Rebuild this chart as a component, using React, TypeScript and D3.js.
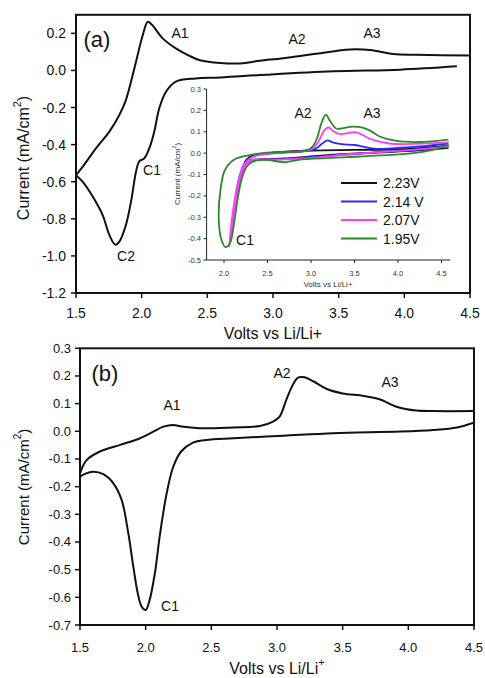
import React from 'react';
import * as d3 from 'd3';

type P = [number, number];

// Panel (a) main CV
const aAnodic: P[] = [[1.5,-0.565],[1.55,-0.52],[1.652,-0.42],[1.754,-0.33],[1.83,-0.24],[1.875,-0.17],[1.906,-0.096],[1.957,0.047],[2.008,0.19],[2.046,0.262],[2.08,0.245],[2.16,0.173],[2.26,0.119],[2.36,0.08],[2.444,0.055],[2.6,0.04],[2.75,0.038],[2.9,0.052],[3.08,0.066],[3.33,0.09],[3.586,0.113],[3.74,0.11],[3.916,0.088],[4.09,0.084],[4.5,0.081]];
const aCathodic: P[] = [[4.4,0.022],[3.967,0.004],[3.46,-0.005],[2.95,-0.023],[2.6,-0.038],[2.41,-0.043],[2.26,-0.06],[2.185,-0.115],[2.134,-0.204],[2.096,-0.33],[2.058,-0.42],[2.02,-0.474],[1.982,-0.49],[1.957,-0.546],[1.919,-0.707],[1.88,-0.833],[1.83,-0.923],[1.80,-0.94],[1.754,-0.887],[1.703,-0.78],[1.627,-0.68],[1.55,-0.6],[1.5,-0.565]];

// Inset curves (vertex potentials)
const legendLabels = ['2.23V', '2.14 V', '2.07V', '1.95V'];
const insetColors = ['#111111', '#2a2aff', '#ff3cff', '#2a8a2a'];
const insBlack: P[] = [[4.58,0.025],[4.2,0.012],[3.8,0.004],[3.4,-0.004],[3.0,-0.015],[2.7,-0.025],[2.45,-0.028],[2.3,-0.034],[2.235,-0.05],[2.26,-0.03],[2.33,-0.012],[2.6,0.004],[3.0,0.012],[3.5,0.015],[4.0,0.018],[4.3,0.025],[4.58,0.035]];
const insBlue: P[] = [[4.58,0.03],[4.3,0.018],[3.9,0.007],[3.5,-0.004],[3.0,-0.019],[2.7,-0.028],[2.45,-0.03],[2.3,-0.035],[2.25,-0.055],[2.2,-0.11],[2.15,-0.2],[2.13,-0.25],[2.16,-0.14],[2.24,-0.045],[2.33,-0.015],[2.6,0.0],[2.9,0.007],[3.05,0.02],[3.13,0.045],[3.19,0.06],[3.25,0.05],[3.35,0.042],[3.5,0.038],[3.6,0.03],[3.75,0.02],[4.0,0.025],[4.3,0.033],[4.58,0.045]];
const insMagenta: P[] = [[4.58,0.032],[4.3,0.02],[3.9,0.008],[3.5,-0.003],[2.9,-0.025],[2.6,-0.03],[2.4,-0.03],[2.3,-0.035],[2.25,-0.055],[2.2,-0.11],[2.15,-0.2],[2.11,-0.3],[2.08,-0.39],[2.06,-0.44],[2.075,-0.37],[2.1,-0.28],[2.16,-0.14],[2.24,-0.047],[2.33,-0.018],[2.5,-0.002],[2.8,0.007],[3.0,0.017],[3.08,0.05],[3.15,0.105],[3.2,0.12],[3.25,0.105],[3.32,0.09],[3.42,0.093],[3.5,0.098],[3.57,0.09],[3.65,0.072],[3.75,0.057],[3.9,0.045],[4.2,0.043],[4.58,0.05]];
const insGreen: P[] = [[4.58,0.04],[4.4,0.015],[4.17,0.0],[3.79,-0.011],[3.41,-0.019],[2.9,-0.029],[2.68,-0.042],[2.49,-0.032],[2.33,-0.04],[2.26,-0.064],[2.2,-0.126],[2.15,-0.233],[2.11,-0.344],[2.07,-0.42],[2.02,-0.44],[1.97,-0.405],[1.94,-0.31],[1.96,-0.17],[2.01,-0.08],[2.11,-0.032],[2.3,-0.009],[2.49,0.002],[2.7,0.005],[2.87,0.008],[2.99,0.02],[3.06,0.06],[3.12,0.14],[3.17,0.18],[3.22,0.15],[3.29,0.115],[3.37,0.117],[3.48,0.124],[3.58,0.12],[3.68,0.105],[3.79,0.078],[3.98,0.057],[4.25,0.052],[4.58,0.063]];
const insetSeries = [insBlack, insBlue, insMagenta, insGreen];

// Panel (b)
const bAnodic: P[] = [[1.5,-0.152],[1.55,-0.104],[1.652,-0.073],[1.805,-0.049],[1.957,-0.025],[2.058,-0.001],[2.135,0.017],[2.21,0.023],[2.274,0.017],[2.41,0.011],[2.668,0.014],[2.87,0.019],[2.97,0.035],[3.02,0.053],[3.07,0.113],[3.12,0.167],[3.16,0.194],[3.21,0.195],[3.28,0.18],[3.38,0.153],[3.5,0.137],[3.66,0.128],[3.78,0.116],[3.91,0.089],[4.06,0.075],[4.19,0.073],[4.5,0.073]];
const bCathodic: P[] = [[4.5,0.031],[4.37,0.014],[4.19,0.005],[3.94,-0.001],[3.43,-0.007],[3.05,-0.016],[2.67,-0.025],[2.46,-0.031],[2.36,-0.041],[2.27,-0.073],[2.21,-0.128],[2.16,-0.224],[2.11,-0.369],[2.07,-0.513],[2.03,-0.61],[2.0,-0.646],[1.97,-0.634],[1.94,-0.586],[1.906,-0.489],[1.868,-0.369],[1.817,-0.248],[1.754,-0.188],[1.678,-0.155],[1.6,-0.146],[1.537,-0.154],[1.5,-0.164]];

const xTicks = [1.5, 2.0, 2.5, 3.0, 3.5, 4.0, 4.5];
const aYTicks = [0.2, 0.0, -0.2, -0.4, -0.6, -0.8, -1.0, -1.2];
const bYTicks = [0.3, 0.2, 0.1, 0.0, -0.1, -0.2, -0.3, -0.4, -0.5, -0.6, -0.7];
const insXTicks = [2.0, 2.5, 3.0, 3.5, 4.0, 4.5];
const insYTicks = [0.3, 0.2, 0.1, 0.0, -0.1, -0.2, -0.3, -0.4, -0.5];

const FONT = 'Liberation Sans, Arial, Helvetica, sans-serif';
const fmt = d3.formatLocale({ decimal: '.', thousands: ',', grouping: [3], currency: ['', ''], minus: '-' }).format('.1f');

function mkLine(x: d3.ScaleLinear<number, number>, y: d3.ScaleLinear<number, number>) {
  return d3.line<P>().x(d => x(d[0])).y(d => y(d[1])).curve(d3.curveCatmullRom.alpha(0.5));
}

export default function App() {
  const ax = d3.scaleLinear().domain([1.5, 4.5]).range([76, 470]);
  const ay = d3.scaleLinear().domain([-1.2, 0.3]).range([293, 14.8]);
  const aLine = mkLine(ax, ay);
  const ix = d3.scaleLinear().domain([1.8, 4.6]).range([206.6, 450.2]);
  const iy = d3.scaleLinear().domain([-0.5, 0.3]).range([260, 89]);
  const iLine = mkLine(ix, iy);
  const bx = d3.scaleLinear().domain([1.5, 4.5]).range([80, 474]);
  const by = d3.scaleLinear().domain([-0.7, 0.3]).range([625, 348.3]);
  const bLine = mkLine(bx, by);

  const lab = (t: string, x: number, y: number, size = 14, anchor = 'middle') => (
    <text x={x} y={y} fontSize={size} textAnchor={anchor} dominantBaseline="central" fill="#111">{t}</text>
  );

  return (
    <svg width={485} height={678} style={{ position: 'absolute', left: 0, top: 0 }} fontFamily={FONT}>
      <rect x={0} y={0} width={485} height={678} fill="#fff" />
      <defs>
        <clipPath id="clipA"><rect x={76} y={14.8} width={394} height={278.2} /></clipPath>
        <clipPath id="clipB"><rect x={80} y={348.3} width={394} height={276.7} /></clipPath>
      </defs>
      {/* ===== Panel (a) ===== */}
      <g clipPath="url(#clipA)" fill="none" stroke="#111" strokeWidth={2}>
        <path d={aLine(aAnodic) || ''} />
        <path d={aLine(aCathodic) || ''} />
      </g>
      <rect x={76} y={14.8} width={394} height={278.2} fill="none" stroke="#111" strokeWidth={2} />
      {aYTicks.map(t => (
        <g key={'ay' + t}>
          <line x1={71} x2={76} y1={ay(t)} y2={ay(t)} stroke="#111" strokeWidth={1.5} />
          {lab(fmt(t), 66, ay(t), 14, 'end')}
        </g>
      ))}
      {xTicks.map(t => (
        <g key={'ax' + t}>
          <line x1={ax(t)} x2={ax(t)} y1={293} y2={298} stroke="#111" strokeWidth={1.5} />
          {lab(fmt(t), ax(t), 313, 14)}
        </g>
      ))}
      {lab('Volts vs Li/Li+', 273, 333, 16)}
      <text transform="translate(23,158) rotate(-90)" fontSize={16} textAnchor="middle" dominantBaseline="central" fill="#111">
        Current (mA/cm<tspan dy={-6} fontSize={11}>2</tspan><tspan dy={6}>)</tspan>
      </text>
      {lab('(a)', 97, 39, 22)}
      {lab('A1', 180, 33)}
      {lab('A2', 297, 39)}
      {lab('A3', 372, 33)}
      {lab('C1', 152, 170)}
      {lab('C2', 126, 256)}

      {/* ===== Inset ===== */}
      <g fill="none" strokeWidth={1.8}>
        {insetSeries.map((s, i) => (
          <path key={'is' + i} d={iLine(s) || ''} stroke={insetColors[i]} />
        ))}
      </g>
      <line x1={206.6} x2={206.6} y1={89} y2={260} stroke="#222" strokeWidth={1} />
      <line x1={206.6} x2={450.2} y1={260} y2={260} stroke="#222" strokeWidth={1} />
      {insYTicks.map(t => (
        <g key={'iy' + t}>
          <line x1={203.5} x2={206.6} y1={iy(t)} y2={iy(t)} stroke="#222" strokeWidth={1} />
          <text x={201} y={iy(t)} fontSize={7.5} textAnchor="end" dominantBaseline="central" fill="#333">{fmt(t)}</text>
        </g>
      ))}
      {insXTicks.map(t => (
        <g key={'ix' + t}>
          <line x1={ix(t)} x2={ix(t)} y1={260} y2={263} stroke="#222" strokeWidth={1} />
          <text x={ix(t)} y={273} fontSize={7.5} textAnchor="middle" dominantBaseline="central" fill="#333">{fmt(t)}</text>
        </g>
      ))}
      <text x={328} y={284} fontSize={8} textAnchor="middle" dominantBaseline="central" fill="#333">Volts vs Li/Li+</text>
      <text transform="translate(177,174) rotate(-90)" fontSize={8} textAnchor="middle" dominantBaseline="central" fill="#333">
        Current (mA/cm<tspan dy={-3} fontSize={5.5}>2</tspan><tspan dy={3}>)</tspan>
      </text>
      {lab('A2', 303, 113)}
      {lab('A3', 372, 113)}
      {lab('C1', 245, 240)}
      {legendLabels.map((t, i) => (
        <g key={'lg' + i}>
          <line x1={341} x2={377} y1={183 + i * 18.5} y2={183 + i * 18.5} stroke={insetColors[i]} strokeWidth={2} />
          {lab(t, 383, 183 + i * 18.5, 14, 'start')}
        </g>
      ))}

      {/* ===== Panel (b) ===== */}
      <g clipPath="url(#clipB)" fill="none" stroke="#111" strokeWidth={2}>
        <path d={bLine(bAnodic) || ''} />
        <path d={bLine(bCathodic) || ''} />
      </g>
      <rect x={80} y={348.3} width={394} height={276.7} fill="none" stroke="#111" strokeWidth={2} />
      {bYTicks.map(t => (
        <g key={'by' + t}>
          <line x1={75} x2={80} y1={by(t)} y2={by(t)} stroke="#111" strokeWidth={1.5} />
          {lab(fmt(t), 71, by(t), 13, 'end')}
        </g>
      ))}
      {xTicks.map(t => (
        <g key={'bx' + t}>
          <line x1={bx(t)} x2={bx(t)} y1={625} y2={630} stroke="#111" strokeWidth={1.5} />
          {lab(fmt(t), bx(t), 647, 13)}
        </g>
      ))}
      <text x={277} y={668} fontSize={16} textAnchor="middle" dominantBaseline="central" fill="#111">
        Volts vs Li/Li<tspan dy={-6} fontSize={11}>+</tspan>
      </text>
      <text transform="translate(23,487) rotate(-90)" fontSize={15} textAnchor="middle" dominantBaseline="central" fill="#111">
        Current (mA/cm<tspan dy={-6} fontSize={10}>2</tspan><tspan dy={6}>)</tspan>
      </text>
      {lab('(b)', 105, 373, 22)}
      {lab('A1', 172, 405)}
      {lab('A2', 282, 373)}
      {lab('A3', 390, 382)}
      {lab('C1', 170, 606)}
    </svg>
  );
}
